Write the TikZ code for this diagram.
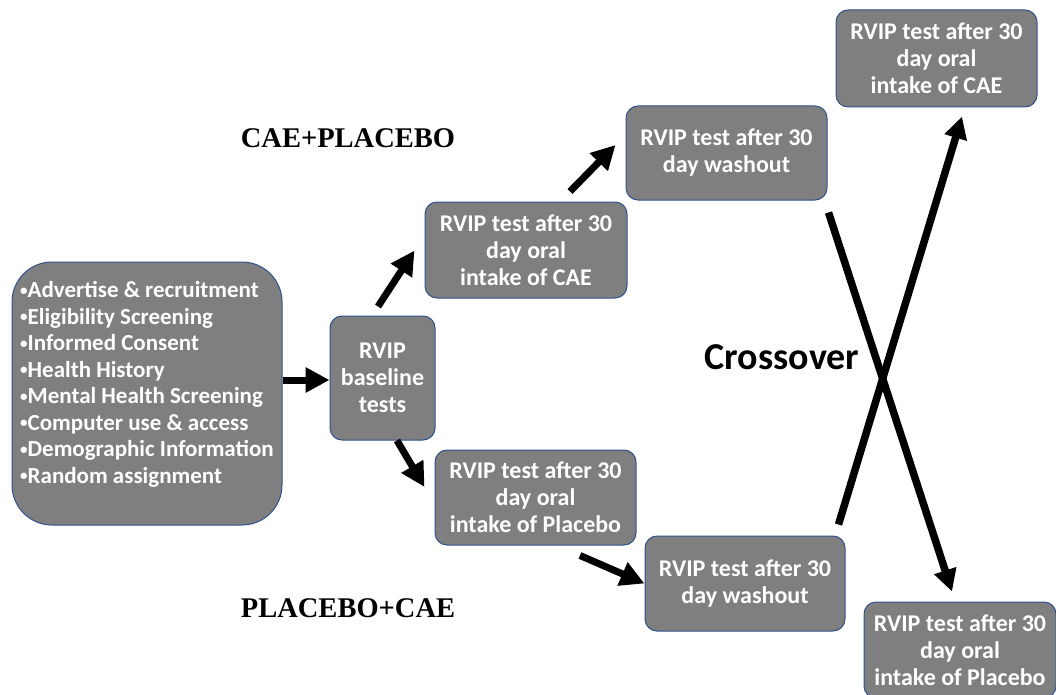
\documentclass[tikz,border=0pt]{standalone}
\usepackage{fontspec}
\setmainfont{Carlito}
\newfontfamily\titlefont{Liberation Serif}
\usetikzlibrary{arrows.meta}
\definecolor{boxgray}{HTML}{7F7F7F}
\definecolor{boxline}{HTML}{2F528F}
\newcommand{\smallbul}{\raisebox{0.2ex}{\fontsize{15}{15}\selectfont\textbullet}}

\begin{document}
\begin{tikzpicture}[x=1pt, y=-1pt,
  every node/.style={font=\bfseries\fontsize{24}{27}\selectfont},
  stagebox/.style={draw=boxline, line width=1pt, fill=boxgray, text=white, rounded corners=12pt, align=center, inner sep=0pt},
  bigarrow/.style={line width=7pt, -{Triangle[length=24pt, width=24pt]}},
  crossarrow/.style={line width=7.5pt, -{Triangle[length=22pt, width=22pt]}},
  grouptitle/.style={font=\titlefont\bfseries\fontsize{28.5}{32}\selectfont}]
  \useasboundingbox (0,0) rectangle (1056,695);
  % boxes
  \node[stagebox, rounded corners=40pt, minimum width=270pt, minimum height=263pt, align=left,
        font=\bfseries\fontsize{23}{26.5}\selectfont] (intake) at (147,393.5)
    {\smallbul Advertise \& recruitment\\\smallbul Eligibility Screening\\\smallbul Informed Consent\\\smallbul Health History\\\smallbul Mental Health Screening\\\smallbul Computer use \& access\\\smallbul Demographic Information\\\smallbul Random assignment\\[-4pt]\mbox{}};
  \node[stagebox, minimum width=105pt, minimum height=124pt] (base) at (382.5,378) {RVIP\\baseline\\tests};
  \node[stagebox, minimum width=202pt, minimum height=96pt] (caeA) at (526,250) {RVIP test after 30\\day oral\\ intake of CAE};
  \node[stagebox, minimum width=201pt, minimum height=94pt] (washA) at (726.5,153) {RVIP test after 30\\day washout};
  \node[stagebox, minimum width=201pt, minimum height=97pt] (caeB) at (936.5,58.5) {RVIP test after 30\\day oral\\ intake of CAE};
  \node[stagebox, minimum width=201pt, minimum height=95pt] (plA) at (535.5,497.5) {RVIP test after 30\\day oral\\ intake of Placebo};
  \node[stagebox, minimum width=200pt, minimum height=95pt] (washB) at (745,583.5) {RVIP test after 30\\day washout};
  \node[stagebox, minimum width=192pt, minimum height=96pt] (plB) at (960,650) {RVIP test after 30\\day oral\\ intake of Placebo};
  % labels
  \node[grouptitle] (topgroup) at (348,138) {CAE+PLACEBO};
  \node[grouptitle] (botgroup) at (348,608) {PLACEBO+CAE};
  \node[font=\bfseries\fontsize{38}{42}\selectfont] (cross) at (782,357) {Crossover};
  % arrows
  \draw[bigarrow] (intake.east |- 0,380) -- (base.west |- 0,380);
  \draw[bigarrow] ([xshift=-4.5pt, yshift=9pt]base.north) -- ([xshift=-10pt, yshift=48pt]caeA.south west);
  \draw[bigarrow] ([xshift=14.5pt]base.south) -- ([xshift=-10pt, yshift=10.5pt]plA.west);
  \draw[bigarrow] ([xshift=44pt, yshift=10pt]caeA.north) -- ([xshift=-10pt, yshift=8pt]washA.west);
  \draw[bigarrow] ([xshift=44.5pt, yshift=-10pt]plA.south) -- (washB.west);
  % crossover
  \draw[crossarrow] ([xshift=1pt, yshift=-12pt]washA.south east) -- ([xshift=-8pt, yshift=10pt]plB.north);
  \draw[crossarrow] ([xshift=-7pt, yshift=11pt]washB.north east) -- ([xshift=25.5pt, yshift=-9pt]caeB.south);
\end{tikzpicture}
\end{document}
